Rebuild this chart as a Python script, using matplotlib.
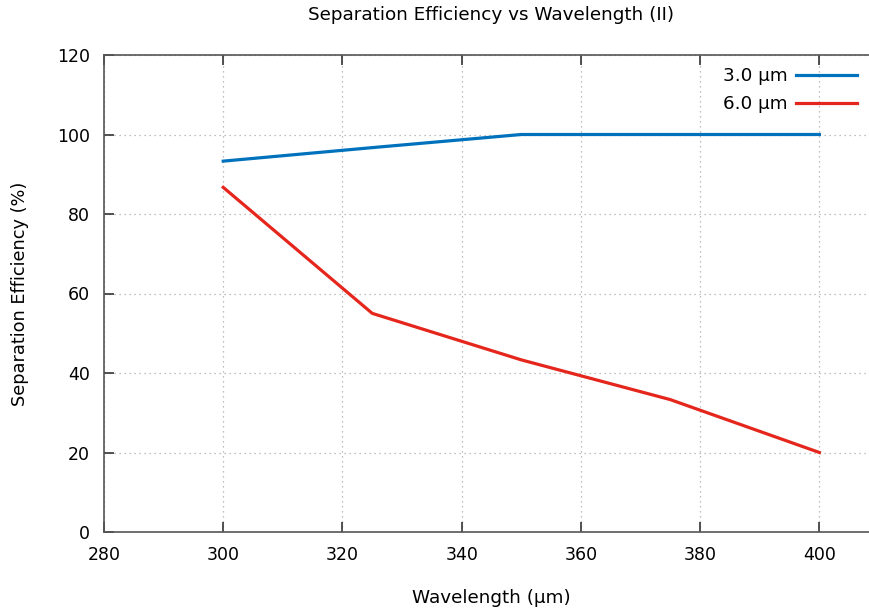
import matplotlib
matplotlib.use("Agg")
import matplotlib.pyplot as plt

wavelength = [300, 325, 350, 375, 400]
eff_3um = [93.3, 96.7, 100.0, 100.0, 100.0]
eff_6um = [86.7, 55.0, 43.3, 33.3, 20.0]
x_ticks = [280, 300, 320, 340, 360, 380, 400]
y_ticks = [0, 20, 40, 60, 80, 100, 120]

plt.rcParams["font.family"] = ["DejaVu Sans"]

fig = plt.figure(figsize=(8.7, 6.13), dpi=100)
# axes run a little past the right edge of the image, as in the original
ax = fig.add_axes([104 / 870, 81 / 613, 775 / 870, 477 / 613])

ax.plot(wavelength, eff_3um, color="#0072bd", lw=2.3, label="3.0 µm")
ax.plot(wavelength, eff_6um, color="#e5261c", lw=2.3, label="6.0 µm")

ax.set_xlim(280, 410)
ax.set_ylim(0, 120)
ax.set_xticks(x_ticks)
ax.set_yticks(y_ticks)
ax.tick_params(direction="in", length=7, width=1.2, labelsize=12.5, pad=10,
               colors="#333333", labelcolor="black", top=True)
ax.grid(True, linestyle=(0, (1, 3)), color="#aaaaaa", lw=0.9)
for s in ["left", "bottom", "top"]:
    ax.spines[s].set_color("#555555")
    ax.spines[s].set_linewidth(1.2)
ax.spines["right"].set_visible(False)

ax.set_title("Separation Efficiency vs Wavelength (II)", fontsize=13.2, pad=25)
ax.set_xlabel("Wavelength (µm)", fontsize=13.2, labelpad=18)
ax.set_ylabel("Separation Efficiency (%)", fontsize=12.8, labelpad=20)

ax.legend(loc="upper right", bbox_to_anchor=(857 / 870, 1 - 67 / 613),
          bbox_transform=fig.transFigure, frameon=False, borderpad=0,
          borderaxespad=0, markerfirst=False, fontsize=13.2, handlelength=3.3,
          handletextpad=0.5, labelspacing=0.55)

fig.savefig("out.png", dpi=100)
